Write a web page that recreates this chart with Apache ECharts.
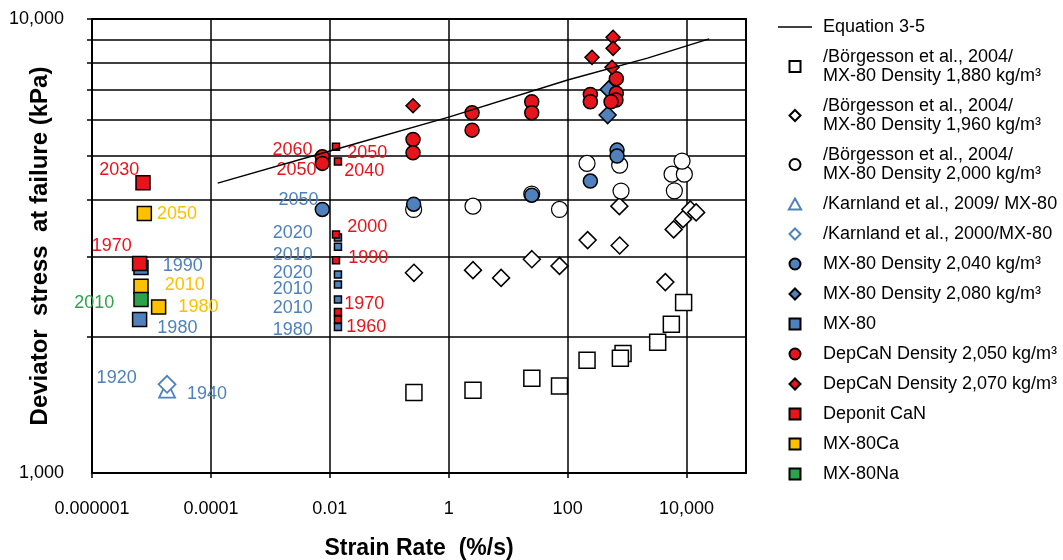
<!DOCTYPE html>
<html>
<head>
<meta charset="utf-8">
<script src="https://cdn.jsdelivr.net/npm/echarts@6/dist/echarts.min.js"></script>
<style>
  html, body { margin: 0; padding: 0; background: #fff; }
  #chart { width: 1063px; height: 560px; }
</style>
</head>
<body>
<div id="chart"></div>
<script>
// Equation 3-5
const eqX = [0.00013, 0.01, 1, 100, 2200, 24000];
const eqY = [4350, 5120, 6080, 7340, 8200, 9040];

// /Börgesson et al., 2004/
const borg1880X = [0.26, 2.56, 25, 73, 212, 855, 771, 3270, 5550, 8930];
const borg1880Y = [1504, 1521, 1617, 1555, 1772, 1833, 1790, 1941, 2127, 2375];
const borg1960X = [0.26, 2.56, 7.6, 25, 73, 217, 750, 741, 4400, 6070, 8730, 11600, 14500];
const borg1960Y = [2760, 2798, 2690, 2958, 2859, 3258, 3171, 3871, 2633, 3440, 3624, 3807, 3750];
const borg2000X = [0.257, 2.56, 73, 24.9, 212, 750, 791, 5700, 9180, 8400, 6240];
const borg2000Y = [3807, 3871, 3807, 4115, 4808, 4766, 4178, 4553, 4553, 4864, 4183];

// Karnland
const karn2009X = [1.83e-5];
const karn2009Y = [1527];
const karn2009Lbl = ['1940'];
const karn2000X = [1.83e-5];
const karn2000Y = [1568];
const karn2000Lbl = ['1920'];

// MX-80
const mx2040X = [0.00748, 0.257, 24.9, 241, 678, 678];
const mx2040Y = [3807, 3910, 4093, 4395, 5143, 4989];
const mx2040Lbl = ['2050'];
const mx2080X = [490, 471];
const mx2080Y = [6998, 6143];
const mx80X = [6.67e-6, 6.32e-6, 0.0137, 0.0137, 0.0137, 0.0137, 0.0137, 0.0137];
const mx80Y = [2837, 2178, 3303, 3149, 2737, 2602, 2411, 2098];
const mx80Lbl = ['1990', '1980', '2020', '2010', '2020', '2010', '2010', '1980'];

// DepCaN / Deponit CaN
const dep2050X = [0.00748, 0.00748, 0.251, 0.251, 2.47, 2.47, 24.9, 24.9, 241, 241, 659, 659, 650, 537];
const dep2050Y = [4971, 4808, 5430, 5073, 6216, 5691, 6573, 6216, 6823, 6573, 7390, 6860, 6630, 6573];
const dep2050Lbl = ['2060', '2050'];
const dep2070X = [0.251, 257, 581, 581, 558];
const dep2070Y = [6442, 8233, 9114, 8618, 7827];
const deponitX = [7.21e-6, 6.32e-6, 0.0127, 0.0137, 0.0127, 0.0127, 0.0137, 0.0137];
const deponitY = [4357, 2894, 5230, 4857, 3354, 2943, 2264, 2178];
const deponitLbl = ['2030', '1970', '2050', '2040', '2000', '1990', '1970', '1960'];

// MX-80Ca / MX-80Na
const caX = [7.59e-6, 6.67e-6, 1.32e-5];
const caY = [3730, 2579, 2322];
const caLbl = ['2050', '2010', '1980'];
const naX = [6.67e-6];
const naY = [2411];
const naLbl = ['2010'];

const yTicks = [1000, 2000, 3000, 4000, 5000, 6000, 7000, 8000, 9000, 10000];

// label placement: [position, dx, dy]
const karn2009Place = [['right', 6, 4]];
const karn2000Place = [['left', -16, -6]];
const mx2040Place = [['left', 9, -9]];
const mx80Place = [['right', 9, -1], ['right', 5, 9], ['left', -16, -4], ['left', -16, 8],
  ['left', -16, -1], ['left', -16, 5], ['left', -16, 9], ['left', -16, 3]];
const dep2050Place = [['left', 3, -7], ['left', 7, 7]];
const deponitPlace = [['left', 9, -13], ['left', 5, -17], ['right', 2, 6], ['right', -3, 10],
  ['right', 2, -7], ['right', 3, -2], ['right', -3, -8], ['right', -1, 8]];
const caPlace = [['right', 0, 1], ['right', 11, -1], ['right', 7, 0]];
const naPlace = [['left', -14, 4]];

const RED = '#e8141b', BLUE = '#4f81bd', YEL = '#ffc000', GRN = '#2ca34a';
const FONT = '"Liberation Sans", Arial, sans-serif';

// legend icons that keep their shape inside the wide legend slot
const ICON_LINE = 'path://M0,0H40V2H0Z';
const ICON_SQ = 'path://M0,0H10V10H0Z';
const ICON_DIA = 'path://M5,0L10,5L5,10L0,5Z';
const ICON_TRI = 'path://M5,0L10,9L0,9Z';

function pts(xs, ys, labels, places, color) {
  return xs.map((x, i) => {
    const item = { value: [x, ys[i]] };
    if (labels && labels[i]) {
      const p = places[i];
      item.label = {
        show: true, formatter: labels[i], position: p[0], offset: [p[1], p[2]],
        color: color, fontSize: 18, fontFamily: FONT
      };
    }
    return item;
  });
}

function scatter(name, symbol, size, fill, border, data, bw) {
  return {
    name: name, type: 'scatter', symbol: symbol, symbolSize: size,
    itemStyle: { color: fill, borderColor: border, borderWidth: bw || 1.5, opacity: 1 },
    emphasis: { disabled: true },
    data: data
  };
}

const bigSmall = (v, p) => (p.dataIndex < 2 ? 14 : 7);

const series = [
  {
    name: 'Equation 3-5', type: 'line', symbol: 'none', smooth: false,
    lineStyle: { color: '#000', width: 1.5 }, itemStyle: { color: '#000' },
    emphasis: { disabled: true },
    data: eqX.map((x, i) => [x, eqY[i]])
  },
  scatter('/Börgesson et al., 2004/\nMX-80 Density 1,880 kg/m³', 'rect', 16, '#fff', '#000', pts(borg1880X, borg1880Y), 1.5),
  scatter('/Börgesson et al., 2004/\nMX-80 Density 1,960 kg/m³', 'diamond', 17, '#fff', '#000', pts(borg1960X, borg1960Y), 1.5),
  scatter('/Börgesson et al., 2004/\nMX-80 Density 2,000 kg/m³', 'circle', 16, '#fff', '#000', pts(borg2000X, borg2000Y), 1.2),
  scatter('/Karnland et al., 2009/ MX-80', 'triangle', 16, '#fff', BLUE, pts(karn2009X, karn2009Y, karn2009Lbl, karn2009Place, BLUE), 1.8),
  scatter('/Karnland et al., 2000/MX-80', 'diamond', 17, '#fff', BLUE, pts(karn2000X, karn2000Y, karn2000Lbl, karn2000Place, BLUE), 1.8),
  scatter('MX-80 Density 2,040 kg/m³', 'circle', 14, BLUE, '#000', pts(mx2040X, mx2040Y, mx2040Lbl, mx2040Place, BLUE)),
  scatter('MX-80 Density 2,080 kg/m³', 'diamond', 17, BLUE, '#000', pts(mx2080X, mx2080Y)),
  scatter('MX-80', 'rect', bigSmall, BLUE, '#000', pts(mx80X, mx80Y, mx80Lbl, mx80Place, BLUE)),
  scatter('DepCaN Density 2,050 kg/m³', 'circle', 14, RED, '#000', pts(dep2050X, dep2050Y, dep2050Lbl, dep2050Place, RED)),
  scatter('DepCaN Density 2,070 kg/m³', 'diamond', 14, RED, '#000', pts(dep2070X, dep2070Y)),
  scatter('Deponit CaN', 'rect', bigSmall, RED, '#000', pts(deponitX, deponitY, deponitLbl, deponitPlace, RED)),
  scatter('MX-80Ca', 'rect', 14, YEL, '#000', pts(caX, caY, caLbl, caPlace, YEL)),
  scatter('MX-80Na', 'rect', 14, GRN, '#000', pts(naX, naY, naLbl, naPlace, GRN))
];

const iconFor = { line: ICON_LINE, rect: ICON_SQ, diamond: ICON_DIA, triangle: ICON_TRI, circle: 'circle' };
const legendData = series.map(s => ({
  name: s.name,
  icon: iconFor[s.type === 'line' ? 'line' : s.symbol]
}));

const chart = echarts.init(document.getElementById('chart'));

const option = {
  animation: false,
  textStyle: { fontFamily: FONT },
  grid: {
    left: 92, top: 19, right: 317, bottom: 87, show: true,
    borderColor: '#000', borderWidth: 2, outerBoundsMode: 'none'
  },
  legend: {
    orient: 'vertical', left: 773, top: 12.5,
    itemWidth: 34, itemHeight: 11, itemGap: 11,
    textStyle: { fontSize: 18, lineHeight: 19, color: '#000', fontFamily: FONT, padding: [0, 0, 0, 6] },
    selectedMode: false,
    data: legendData
  },
  xAxis: {
    type: 'log', logBase: 100, min: 1e-6, max: 1e5,
    name: 'Strain Rate  (%/s)', nameLocation: 'middle', nameGap: 64, nameMoveOverlap: false,
    nameTextStyle: { fontSize: 23, fontWeight: 'bold', color: '#000', fontFamily: FONT },
    axisLine: { lineStyle: { color: '#000', width: 2 } },
    axisTick: { length: 5, lineStyle: { color: '#000', width: 1.5 } },
    axisLabel: {
      fontSize: 18, color: '#000', margin: 27, showMaxLabel: false,
      formatter: v => (v < 1 ? v.toFixed(Math.round(-Math.log10(v))) : v.toLocaleString('en-US'))
    },
    splitLine: { show: true, lineStyle: { color: '#000', width: 1.5 } }
  },
  yAxis: {
    type: 'log', logBase: 10, min: 1000, max: 10000,
    name: 'Deviator  stress  at failure (kPa)', nameLocation: 'middle', nameGap: 40, nameMoveOverlap: false,
    nameTextStyle: { fontSize: 24, fontWeight: 'bold', color: '#000', fontFamily: FONT },
    axisLine: { lineStyle: { color: '#000', width: 2 } },
    axisTick: { length: 5, customValues: yTicks, lineStyle: { color: '#000', width: 1.5 } },
    axisLabel: {
      fontSize: 18, color: '#000', margin: 28,
      formatter: v => v.toLocaleString('en-US')
    },
    splitLine: { show: true, lineStyle: { color: '#000', width: 1.5 } }
  },
  series: series
};

try {
  chart.setOption(option);
} catch (e) {
  console.error('chart error', e);
}
</script>
</body>
</html>
